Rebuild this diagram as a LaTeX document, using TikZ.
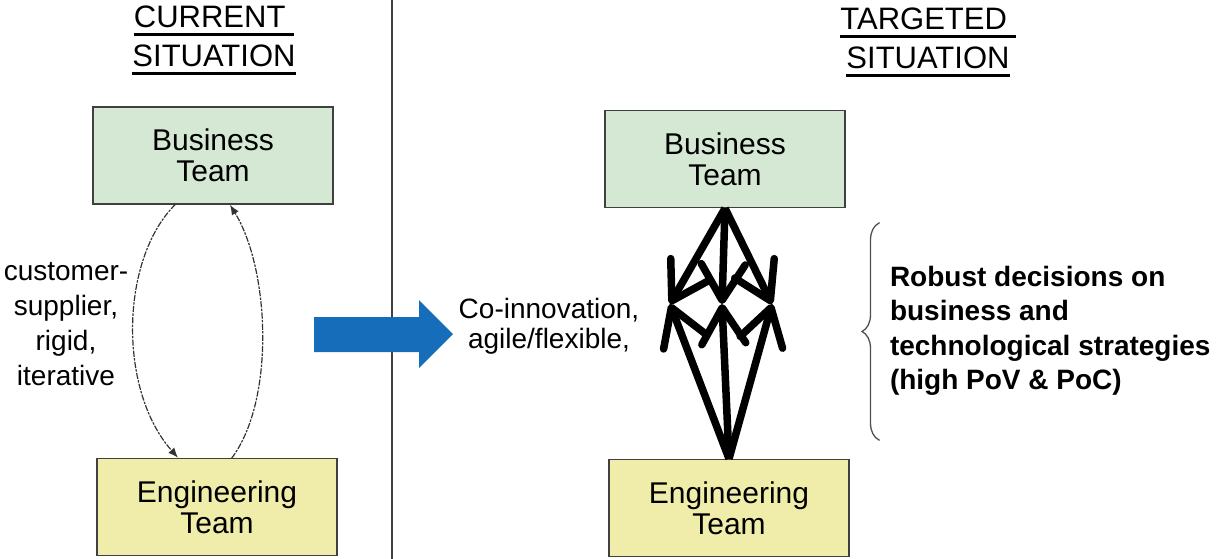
\documentclass[tikz,border=0pt]{standalone}
\usepackage{fontspec}
\setmainfont{Liberation Sans}
\usetikzlibrary{arrows.meta}
\usetikzlibrary{decorations.pathreplacing}

\begin{document}
\begin{tikzpicture}[x=1pt,y=-1pt,line cap=rect,
		teambox/.style={draw=custcol_40_40_40, line width=1.5pt, minimum width=240pt, minimum height=97pt, inner sep=0pt, align=center, font=\fontsize{30pt}{31pt}\selectfont},
		dashlink/.style={line width=1.2pt, custcol_33_33_33, dash pattern=on 5pt off 2.5pt on 1.2pt off 2.5pt, -{Latex[length=10pt,width=8pt]}},
		fatlink/.style={line width=7.5pt, line cap=butt, -{Straight Barb[round,line width=7.5pt,length=36pt,width=44pt]}},
		plaintext/.style={inner sep=0pt, outer sep=0pt, align=center}]
					\def\ulword#1{\setbox0\hbox{#1}\rlap{\rule[-8pt]{\wd0}{3pt}}\box0} % underline as on the slide
					\definecolor{custcol_d5_e8_d4}{RGB}{213, 232, 212}
					\definecolor{custcol_ef_ed_a9}{RGB}{239, 237, 169}
					\definecolor{custcol_40_40_40}{RGB}{64, 64, 64}
					\definecolor{custcol_33_33_33}{RGB}{51, 51, 51}
					\definecolor{custcol_50_50_50}{RGB}{80, 80, 80}
					\definecolor{custcol_16_6e_ba}{RGB}{22, 110, 186}
					\useasboundingbox (0.0,0.0) rectangle (1218.0,558.0);
					\draw [line width=1.3pt, custcol_40_40_40]  (392.0,0.0) -- (392.0,558.0) ;
					% headings
					\node[plaintext, font=\fontsize{31pt}{39pt}\selectfont] (curhead) at  (214.0,40.5)  {\ulword{CURRENT\ }\\\ulword{SITUATION}};
					\node[plaintext, font=\fontsize{31pt}{39pt}\selectfont] (tgthead) at  (928.0,42.5)  {\ulword{TARGETED\ }\\\ulword{SITUATION}};
					% current situation
					\node[teambox, fill=custcol_d5_e8_d4] (lbiz) at  (213.0,155.5)  {Business\\Team};
					\node[teambox, fill=custcol_ef_ed_a9] (leng) at  (217.0,507.0)  {Engineering\\Team};
					\draw [dashlink]  ([xshift=-38pt]lbiz.south) .. controls (120.0,260.0) and (118.0,390.0) .. ([xshift=-39pt]leng.north) ;
					\draw [dashlink]  ([xshift=15pt]leng.north) .. controls (275.0,400.0) and (270.0,270.0) .. ([xshift=17pt]lbiz.south) ;
					\node[plaintext, font=\fontsize{28pt}{35pt}\selectfont] (relation) at  (66.0,324.0)  {customer-\\supplier,\\rigid,\\iterative};
					% transition arrow
					\fill [custcol_16_6e_ba]  (314.0,317.0) -- (419.0,317.0) -- (419.0,300.0) -- (453.0,334.0) -- (419.0,368.0) -- (419.0,352.0) -- (314.0,352.0) -- cycle;
					\node[plaintext, font=\fontsize{28pt}{30pt}\selectfont] (coinno) at  (549.0,326.0)  {Co-innovation,\\agile/flexible,};
					% targeted situation
					\node[teambox, fill=custcol_d5_e8_d4] (rbiz) at  (725.0,159.0)  {Business\\Team};
					\node[teambox, fill=custcol_ef_ed_a9] (reng) at  (729.0,508.0)  {Engineering\\Team};
					\coordinate (hubL) at  (670.0,304.0) ;
					\coordinate (hubC) at  (722.0,304.0) ;
					\coordinate (hubR) at  (772.0,304.0) ;
					\draw [fatlink]  (rbiz.south) -- (hubL) ;
					\draw [fatlink]  (rbiz.south) -- (hubC) ;
					\draw [fatlink]  (rbiz.south) -- (hubR) ;
					\draw [fatlink]  (reng.north) -- (hubL) ;
					\draw [fatlink]  (reng.north) -- (hubC) ;
					\draw [fatlink]  (reng.north) -- (hubR) ;
					\draw [line width=1.3pt, custcol_50_50_50, decorate, decoration={brace, amplitude=17pt}]  (879.0,440.0) -- (879.0,223.0) ;
					\node[plaintext, anchor=west, align=left, font=\bfseries\fontsize{28pt}{34.5pt}\selectfont] (outcome) at  (890.0,331.0)  {Robust decisions on\\business and\\technological strategies\\(high PoV \& PoC)};
				\end{tikzpicture}
\end{document}
